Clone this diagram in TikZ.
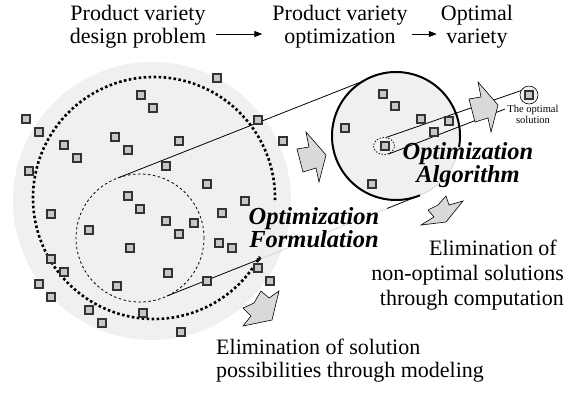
\documentclass[tikz,border=0pt]{standalone}
\usepackage{fontspec}
\setmainfont{Liberation Serif}
\usetikzlibrary{shapes.geometric,calc,arrows.meta}

\definecolor{disk}{gray}{0.94}
\definecolor{chip}{gray}{0.78}
\definecolor{shade}{gray}{0.85}

\tikzset{
  sol/.style={draw=black!80, fill=chip, line width=1.1pt, minimum size=8, inner sep=0pt},
  ring/.style={circle, inner sep=0pt, outer sep=0pt},
  caption/.style={font=\fontsize{22}{23}\selectfont, align=center, inner sep=4pt},
  method/.style={font=\fontsize{24.5}{23}\selectfont\bfseries\itshape, align=center},
  faint/.style={draw=gray!45, line width=0.5pt},
  flow/.style={-{Triangle[length=8pt,width=6pt]}, line width=0.8pt},
  pushright/.pic={\draw[fill=shade, line width=0.6pt] (15,-2) -- (-5,-25) -- (-2,-10) -- (-14,-8) -- (-8,15) -- (5,11) -- (8,25) -- cycle;},
  pushout/.pic={\draw[fill=shade, line width=0.6pt] (0,-17) -- (8,-10) -- (18,-17) -- (11,12) -- (-18,18) -- (-10,8) -- (-18,0) -- (-7,-5) -- cycle;},
  pushdown/.pic={\draw[fill=shade, line width=0.6pt] (4,-15) -- (7,-6) -- (21,-10) -- (4,11) -- (-21,14) -- (-8,6) -- (-14,-1) -- (-4,-6) -- cycle;}
}

\begin{document}
\begin{tikzpicture}[x=1pt, y=-1pt]
  \useasboundingbox (0,0) rectangle (580,392);

  % header
  \node[caption] (problem) at (138,27) {Product variety\\design problem};
  \node[caption] (optim) at (340,27) {Product variety\\optimization};
  \node[caption] (optimal) at (477,27) {Optimal\\variety};
  \draw[flow, shorten <=6pt, shorten >=6pt] ([yshift=-7pt]problem.east) -- ([yshift=-7pt]optim.west);
  \draw[flow] ([yshift=-7pt]optim.east) -- ([yshift=-7pt]optimal.west);

  % solution space
  \node[ring, fill=disk, minimum size=278] (field) at (152,201) {};
  \node[ring, minimum size=242] (bound) at (154,198) {};
  \draw[line width=2.6pt, dash pattern=on 2.6pt off 2.4pt] (bound.-1) arc[start angle=-1, end angle=331, radius=121pt];
  \draw[faint, dotted] (bound.-29) arc[start angle=-29, end angle=-1, radius=121pt];
  \node[ring, draw, line width=0.8pt, dash pattern=on 2.5pt off 2.5pt, minimum size=128] (inner) at (140,238) {};

  % zoomed region
  \node[ring, fill=disk, minimum size=128] (zoomc) at (396,136) {};
  \draw[line width=2pt] (zoomc.-10) arc[start angle=-10, end angle=292, radius=64pt];
  \draw[faint] (zoomc.-68) arc[start angle=-68, end angle=-10, radius=64pt];

  \draw[line width=0.8pt] (inner.110) -- (zoomc.121);
  \coordinate (lowa) at ($(inner.-65)!0.375!(zoomc.-68)$);
  \coordinate (lowb) at ($(inner.-65)!0.87!(zoomc.-68)$);
  \draw[line width=0.8pt, -{Stealth[length=5pt,width=4pt]}] (inner.-65) -- (lowa);
  \draw[faint] (lowa) -- (lowb);
  \draw[line width=0.8pt] (lowb) -- (zoomc.-68);

  % the optimum
  \node[ellipse, draw, line width=0.7pt, dash pattern=on 1.5pt off 1.5pt, minimum width=21, minimum height=17, inner sep=0pt] (best) at (384,146) {};
  \node[ring, draw, fill=disk, line width=0.6pt, minimum size=18] (optc) at (529,95) {};
  \node[font=\fontsize{10.5}{11}\selectfont, align=center, inner sep=1pt] (optlabel) at (533,114) {The optimal\\solution};
  \coordinate (optend) at (505,109);
  \draw[line width=0.8pt] (best.75) -- (optc.150);
  \draw[line width=0.8pt] (best.-60) -- (optend);

  % candidate solutions
  \foreach \p [count=\i] in {(26,119),(39,132),(64,145),(77,158),(29,171),(115,137),(128,150),(141,95),
      (153,108),(179,141),(166,166),(207,184),(258,120),(283,141),(217,78),(245,201),(222,213),
      (128,196),(140,209),(166,221),(194,223),(179,234),(89,230),(51,214),(130,248),(64,272),
      (168,273),(219,243),(232,248),(258,268),(270,281),(207,281),(51,259),(39,284),(51,297),
      (117,286),(89,310),(143,313),(102,323),(181,332),
      (383,94),(395,106),(345,128),(421,119),(449,121),(434,132),(385,146),(372,184),(529,95)}
    \node[sol] (s\i) at \p {};

  % block arrows
  \pic at (311,157) {pushright};
  \pic at (483,107) {pushright};
  \pic at (261,308) {pushout};
  \pic at (442,211) {pushdown};

  % labels
  \node[method] (formul) at (314,228) {Optimization\\Formulation};
  \node[method] (algo) at (468,165) {Optimization\\Algorithm};
  \node[caption, align=right, anchor=east, font=\fontsize{22}{25}\selectfont] (elimcomp) at (568,275) {Elimination of\hspace*{7pt}\\non-optimal solutions\\through computation};
  \node[caption, align=left, anchor=west] (elimmodel) at (212,361) {Elimination of solution\\possibilities through modeling};
\end{tikzpicture}
\end{document}
